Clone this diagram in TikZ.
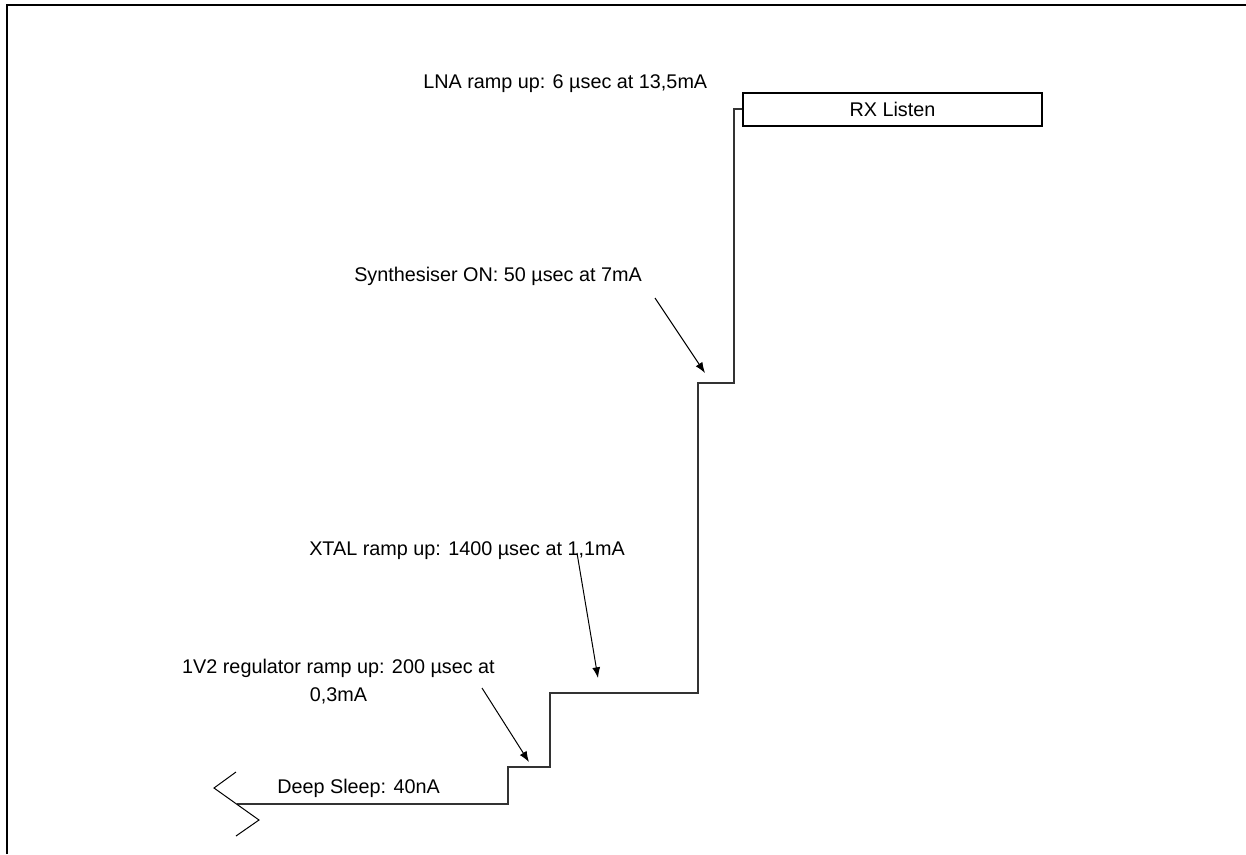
\documentclass[tikz,border=0pt]{standalone}
\usepackage{fontspec}
\setmainfont{Liberation Sans}
\usetikzlibrary{arrows.meta}
\begin{document}
\begin{tikzpicture}[x=0.75pt,y=-0.75pt,
  lbl/.style={inner sep=0pt,font=\fontsize{14.85}{21}\selectfont},
  stair/.style={draw=black!80,line width=1.1pt,line join=miter},
  ptr/.style={draw=black,line width=0.75pt,-{Latex[length=8pt,width=6pt]}},
  statebox/.style={draw=black,line width=0.9pt,minimum width=299*0.75pt,minimum height=33*0.75pt,inner sep=0pt,font=\fontsize{14.85}{21}\selectfont},
  frame/.style={draw=black,line width=1.35pt}]
\useasboundingbox (0,0) rectangle (1246,854);
% frame
\draw[frame] (7,854) -- (7,5) -- (1246,5);
% RX Listen state
\node[statebox] (rx) at (892.5,109.5) {RX Listen};
% staircase corners
\coordinate (s1) at (734,109);
\coordinate (s2) at (734,383);
\coordinate (s3) at (698,383);
\coordinate (s4) at (698,693);
\coordinate (s5) at (550,693);
\coordinate (s6) at (550,767);
\coordinate (s7) at (508,767);
\coordinate (s8) at (508,804);
\coordinate (s9) at (236.5,804);
\draw[stair] (rx.west |- s1) -- (s1) -- (s2) -- (s3) -- (s4) -- (s5) -- (s6) -- (s7) -- (s8) -- (s9);
% break symbol
\coordinate (z1) at (236,772);
\coordinate (z2) at (214,788);
\coordinate (z3) at (259,820);
\coordinate (z4) at (236,836);
\draw[black,line width=0.75pt] (z1) -- (z2) -- (z3) -- (z4);
% labels
\node[lbl,anchor=base west] (lna) at (423,88) {LNA ramp up: 6 µsec at 13,5mA};
\node[lbl,anchor=base west] (syn) at (354,281) {Synthesiser ON: 50 µsec at 7mA};
\node[lbl,anchor=base west] (xtal) at (309,555) {XTAL ramp up: 1400 µsec at 1,1mA};
\node[lbl,anchor=base,align=center] (reg) at (338.5,701) {1V2 regulator ramp up: 200 µsec at\\0,3mA};
\node[lbl,anchor=base west] (deep) at (277,793) {Deep Sleep: 40nA};
% pointers
\coordinate (synA) at (655,298);
\coordinate (synB) at (705,373);
\coordinate (xtA) at (577,553);
\coordinate (xtB) at (598,678);
\coordinate (regA) at (482,688);
\coordinate (regB) at (529,762);
\draw[ptr] (synA) -- (synB);
\draw[ptr] (xtA) -- (xtB);
\draw[ptr] (regA) -- (regB);
\end{tikzpicture}
\end{document}
